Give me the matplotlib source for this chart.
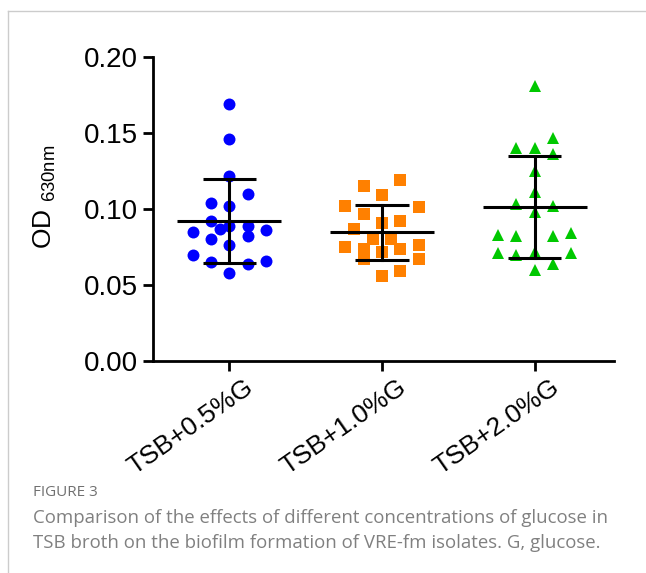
import matplotlib

matplotlib.use("Agg")
import matplotlib.pyplot as plt
import matplotlib.transforms as mtransforms
import numpy as np
from matplotlib.lines import Line2D

plt.rcParams["font.family"] = ["Liberation Sans", "DejaVu Sans"]
plt.rcParams["mathtext.fontset"] = "custom"
plt.rcParams["mathtext.rm"] = "Liberation Sans"

# group labels and OD630 values
groups = ["TSB+0.5%G", "TSB+1.0%G", "TSB+2.0%G"]

od_05 = [0.169, 0.146, 0.122, 0.110, 0.104, 0.102, 0.092, 0.087, 0.089, 0.089,
         0.086, 0.085, 0.080, 0.082, 0.076, 0.070, 0.065, 0.064, 0.066, 0.058]
od_10 = [0.115, 0.119, 0.109, 0.102, 0.097, 0.101, 0.091, 0.092, 0.087, 0.080,
         0.080, 0.075, 0.074, 0.067, 0.074, 0.076, 0.067, 0.056, 0.059, 0.072]
od_20 = [0.181, 0.147, 0.140, 0.140, 0.136, 0.125, 0.111, 0.103, 0.102, 0.098,
         0.083, 0.082, 0.082, 0.084, 0.071, 0.070, 0.072, 0.071, 0.064, 0.060]

# scatter column of each point (in units of one marker width)
col_05 = [0, 0, 0, 1, -1, 0, -1, -0.5, 0, 1, 2, -2, -1, 1, 0, -2, -1, 1, 2, 0]
col_10 = [-1, 1, 0, -2, -1, 2, 0, 1, -1.5, -0.5, 0.5, -2, -1, -1, 1, 2, 2, 0, 1, 0]
col_20 = [0, 1, -1, 0, 1, 0, 0, -1, 1, 0, -2, -1, 1, 2, -2, -1, 0, 2, 1, 0]

series = [
    (od_05, col_05, "o", "#0000ff"),
    (od_10, col_10, "s", "#ff8000"),
    (od_20, col_20, "^", "#00c800"),
]

fig = plt.figure(figsize=(6.46, 5.73), dpi=100)
ax = fig.add_axes([0.2368, 0.370, 0.7137, 0.5305])

step = 0.12
for i, (vals, cols, marker, color) in enumerate(series):
    vals = np.asarray(vals)
    xs = i + step * np.asarray(cols)
    ax.plot(xs, vals, linestyle="none", marker=marker, markersize=8.6,
            color=color, markeredgewidth=0, zorder=2)
    mean = vals.mean()
    sd = vals.std(ddof=1)
    ax.plot([i - 0.34, i + 0.34], [mean, mean], color="black", lw=2.2, zorder=3,
            solid_capstyle="butt")
    ax.plot([i, i], [mean - sd, mean + sd], color="black", lw=2.2, zorder=3)
    for y in (mean - sd, mean + sd):
        ax.plot([i - 0.175, i + 0.175], [y, y], color="black", lw=2.2, zorder=3,
                solid_capstyle="butt")

ax.set_xlim(-0.5, 2.52)
ax.set_ylim(0, 0.20)
ax.set_yticks([0, 0.05, 0.10, 0.15, 0.20])
ax.set_yticklabels(["0.00", "0.05", "0.10", "0.15", "0.20"])
ax.set_xticks(range(len(groups)))
ax.set_xticklabels([])
# rotated group labels, set a little right of each tick like Prism does
shift = mtransforms.ScaledTranslation(0.15, -0.14, fig.dpi_scale_trans)
for i, name in enumerate(groups):
    ax.text(i, 0, name, transform=ax.get_xaxis_transform() + shift,
            rotation=35, rotation_mode="anchor", ha="right", va="top",
            fontsize=19)
ax.tick_params(axis="y", labelsize=20, width=2, length=7, pad=4)
ax.tick_params(axis="x", width=2, length=7)
for side in ("top", "right"):
    ax.spines[side].set_visible(False)
for side in ("left", "bottom"):
    ax.spines[side].set_linewidth(2)
ax.set_ylabel(r"OD $_{\mathregular{630nm}}$", fontsize=19)
ax.yaxis.set_label_coords(-0.205, 0.54)

# page frame and caption
fig.add_artist(Line2D([8 / 646, 1], [1 - 11 / 573, 1 - 11 / 573],
                      transform=fig.transFigure, color="#cccccc", lw=1))
fig.add_artist(Line2D([8 / 646, 8 / 646], [0, 1 - 11 / 573],
                      transform=fig.transFigure, color="#cccccc", lw=1))
fig.text(33 / 646, 1 - 493 / 573, "FIGURE 3", family="Open Sans", fontsize=11,
         color="#707070", va="center")
caption = [
    "Comparison of the effects of different concentrations of glucose in",
    "TSB broth on the biofilm formation of VRE-fm isolates. G, glucose.",
]
for k, line in enumerate(caption):
    fig.text(33 / 646, 1 - (518 + 25 * k) / 573, line, family="Open Sans",
             fontsize=13.4, color="#808080", va="center")

fig.savefig("out.png", dpi=100)
